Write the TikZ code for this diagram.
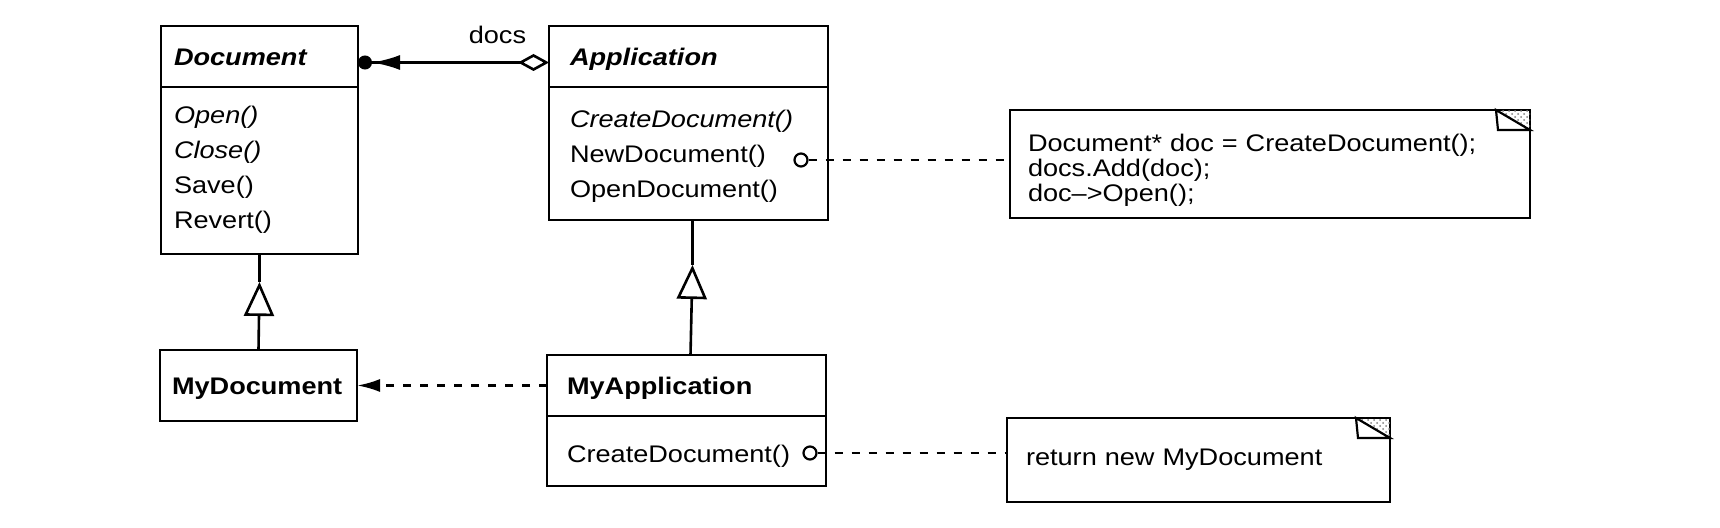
\documentclass[tikz,border=0pt]{standalone}
\usepackage{fontspec}
\setmainfont{Liberation Sans}[FakeStretch=1.13]
\usetikzlibrary{arrows.meta, positioning, patterns}

\tikzset{
  umlbox/.style={draw, line width=1.4pt, align=left, inner ysep=0pt, outer sep=0pt,
    font=\fontsize{12}{17.5}\selectfont},
  classname/.style={umlbox, anchor=north west, minimum height=30.5pt,
    text height=8.6pt, text depth=0pt, font=\fontsize{12}{17.5}\selectfont\bfseries},
  notebox/.style={umlbox, anchor=north west, font=\fontsize{12}{12.5}\selectfont},
  port/.style={circle, draw, line width=1.1pt, fill=white, minimum size=6.5pt, inner sep=0pt},
  conn/.style={line width=1.3pt},
  noteline/.style={conn, dash pattern=on 4pt off 4.5pt},
}

\begin{document}
\begin{tikzpicture}[x=0.5pt, y=-0.5pt]
  \useasboundingbox (0,0) rectangle (1720,528);

  % classes
  \node[classname, text width=85.5pt, inner xsep=6.5pt] (doctitle) at (161,26) {\itshape Document};
  \node[umlbox, text width=85.5pt, inner xsep=6.5pt, below=0pt of doctitle,
        text height=18.5pt, text depth=65pt] (docops)
        {\textit{Open()}\\\textit{Close()}\\Save()\\Revert()};

  \node[classname, text width=118.5pt, inner xsep=10.5pt] (apptitle) at (549,26) {\itshape Application};
  \node[umlbox, text width=118.5pt, inner xsep=10.5pt, below=0pt of apptitle,
        text height=20.5pt, text depth=46pt] (appops)
        {\textit{CreateDocument()}\\NewDocument()\\OpenDocument()};

  \node[classname, text width=86.5pt, inner xsep=6pt, minimum height=35.5pt] (mydoc) at (160,350) {MyDocument};

  \node[classname, text width=119.5pt, inner xsep=10pt] (myapptitle) at (547,355) {MyApplication};
  \node[umlbox, text width=119.5pt, inner xsep=10pt, below=0pt of myapptitle,
        text height=23.5pt, text depth=11.5pt] (myappops) {CreateDocument()};

  % notes
  \node[notebox, text width=242pt, inner xsep=9pt, text height=21pt, text depth=33pt] (notecode) at (1010,110)
        {Document* doc = CreateDocument();\\docs.Add(doc);\\doc\textendash{}>Open();};
  \node[notebox, text width=172.5pt, inner xsep=9.5pt, text height=24pt, text depth=18pt] (notereturn) at (1007,418)
        {return new MyDocument};

  \fill[pattern=crosshatch dots, pattern color=gray] ([xshift=-17pt]notecode.north east) -- (notecode.north east) -- ([yshift=-10pt]notecode.north east) -- cycle;
  \draw[line width=1.1pt, fill=white] ([xshift=-17pt]notecode.north east) -- ([xshift=-16pt,yshift=-10pt]notecode.north east) -- ([yshift=-10pt]notecode.north east) -- cycle;
  \fill[pattern=crosshatch dots, pattern color=gray] ([xshift=-17pt]notereturn.north east) -- (notereturn.north east) -- ([yshift=-10pt]notereturn.north east) -- cycle;
  \draw[line width=1.1pt, fill=white] ([xshift=-17pt]notereturn.north east) -- ([xshift=-16pt,yshift=-10pt]notereturn.north east) -- ([yshift=-10pt]notereturn.north east) -- cycle;

  % aggregation
  \draw[conn, {Circle[length=7pt]Latex[length=14pt,width=7.5pt]}-{Diamond[open,length=15.5pt,width=8.5pt]}]
    ([yshift=-3pt]doctitle.east) -- node[pos=0.73, above=7pt, inner sep=1.5pt, font=\fontsize{12}{14}\selectfont] (docslbl) {docs}
    ([yshift=-3pt]apptitle.west);

  % inheritance
  \draw[conn] (docops.south) -- ++(0,28) coordinate (docgen);
  \draw[conn, -{Triangle[open,length=17pt,width=15pt]}] (mydoc.north) -- (docgen);
  \draw[conn] ([xshift=2pt]appops.south) -- ++(0,45) coordinate (appgen);
  \draw[conn, -{Triangle[open,length=17pt,width=15pt]}] ([xshift=2pt]myapptitle.north) -- (appgen);

  % creates
  \draw[noteline, -{Latex[length=11.5pt,width=6.5pt]}] (myapptitle.west) -- (mydoc.east);

  % note links
  \node[port] (newdocport) at (801,160) {};
  \draw[noteline] (newdocport) -- (newdocport -| notecode.west);
  \node[port] (createport) at (810,453) {};
  \draw[noteline] (createport) -- (createport -| notereturn.west);
\end{tikzpicture}
\end{document}
